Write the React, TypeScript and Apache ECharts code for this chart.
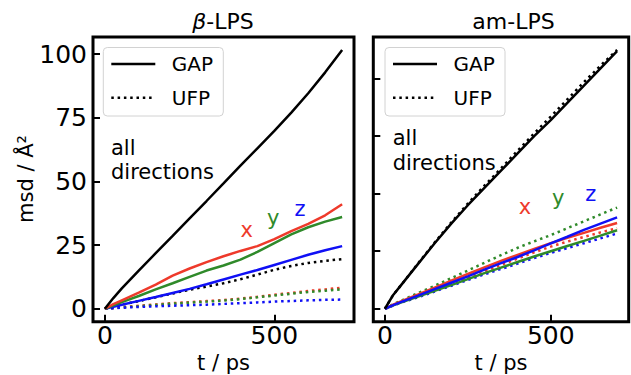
import React, { useEffect, useRef } from 'react';
import * as echarts from 'echarts';

const T = [0, 25, 50, 100, 150, 200, 250, 300, 350, 400, 450, 500, 550, 600, 650, 700];
const xTicks = [0, 500];
const yTicks = [0, 25, 50, 75, 100];

// β-LPS
const betaGapAll = [0, 4.2, 8, 15, 21.8, 28.6, 35.5, 42.3, 49.2, 56.2, 63, 69.8, 77, 84.6, 92.8, 101.6];
const betaGapX = [0, 1.8, 3.3, 6.3, 9.5, 13, 15.8, 18.3, 20.6, 22.7, 24.6, 27.3, 30.5, 33.3, 36.7, 41];
const betaGapY = [0, 1.3, 2.6, 5, 7.6, 10, 12.5, 15, 17, 19.3, 22.3, 25.8, 29.2, 32, 34.2, 36];
const betaGapZ = [0, 0.8, 1.6, 3.1, 4.6, 6.2, 7.8, 9.6, 11.5, 13.4, 15.2, 17.2, 19.2, 21.2, 23, 24.6];
const betaUfpAll = [0, 0.8, 1.6, 3, 4.5, 6, 7.5, 8.7, 10, 11.6, 13.4, 15.3, 16.8, 18, 18.8, 19.5];
const betaUfpX = [0, 0.3, 0.6, 1.2, 1.7, 2.2, 2.6, 3, 3.4, 4, 4.7, 5.5, 6.2, 7, 7.6, 8.3];
const betaUfpY = [0, 0.3, 0.5, 1, 1.5, 2, 2.4, 2.8, 3.2, 3.8, 4.5, 5.2, 5.9, 6.6, 7.1, 7.6];
const betaUfpZ = [0, 0.2, 0.4, 0.7, 0.95, 1.2, 1.4, 1.6, 1.9, 2.2, 2.5, 2.8, 3.05, 3.3, 3.5, 3.6];

// am-LPS
const amGapAll = [0, 6, 10.5, 19.5, 28.5, 37, 45, 52.5, 60, 67.5, 75, 82, 89.5, 97, 104.5, 112];
const amUfpAll = [0, 6, 10.5, 19.7, 28.8, 37.5, 45.7, 53.5, 61, 68.7, 76.2, 83.5, 91, 98.5, 105.7, 112.5];
const amGapX = [0, 1.8, 3.3, 6.2, 9.2, 12.2, 15.1, 18, 20.8, 23.4, 26, 28.5, 30.8, 33, 35.2, 37.3];
const amGapY = [0, 1.5, 2.8, 5.3, 7.8, 10.3, 12.9, 15.5, 17.9, 20.3, 22.7, 25, 27.3, 29.5, 31.8, 34.1];
const amGapZ = [0, 1.6, 3, 5.7, 8.5, 11.3, 14.1, 17, 19.8, 22.5, 25.4, 28.4, 31.3, 34.3, 37, 39.7];
const amUfpX = [0, 1.6, 3, 5.7, 8.4, 11, 13.6, 16.3, 19, 21.8, 24.5, 27, 29.2, 31.2, 33.2, 35];
const amUfpY = [0, 2, 3.6, 6.8, 10, 13.3, 16.6, 20, 23.3, 26.5, 29.3, 32, 35, 38, 41, 44];
const amUfpZ = [0, 1.4, 2.7, 5, 7.5, 10, 12.5, 15, 17.3, 19.6, 22, 24.3, 26.4, 28.5, 30.6, 32.7];

const RED = '#ee3a2b';
const GREEN = '#2f8a2a';
const BLUE = '#1010f5';
const BLACK = '#000000';
const FONT = 'DejaVu Sans';
const DOT = [2.5, 3.8];

function mk(name: string, vals: number[], color: string, dotted: boolean, gi: number, z: number) {
  return {
    type: 'line',
    name,
    xAxisIndex: gi,
    yAxisIndex: gi,
    data: T.map((t, i) => [t, vals[i]]),
    showSymbol: false,
    symbol: 'none',
    silent: true,
    z,
    lineStyle: { color, width: 2.5, type: dotted ? DOT : 'solid', cap: 'butt' },
  };
}

function xAx(gi: number) {
  return {
    gridIndex: gi,
    type: 'value',
    min: -35,
    max: 735,
    axisLine: { show: false, onZero: false },
    splitLine: { show: false },
    axisTick: { show: true, inside: true, length: 7, customValues: xTicks, lineStyle: { color: BLACK, width: 2 } },
    axisLabel: { show: true, customValues: xTicks, fontSize: 25, color: BLACK, fontFamily: FONT, margin: 1 },
  };
}

function yAx(gi: number, min: number, max: number, labels: boolean) {
  return {
    gridIndex: gi,
    type: 'value',
    min,
    max,
    axisLine: { show: false, onZero: false },
    splitLine: { show: false },
    axisTick: { show: true, inside: true, length: 7, customValues: yTicks, lineStyle: { color: BLACK, width: 2 } },
    axisLabel: { show: labels, customValues: yTicks, fontSize: 25, color: BLACK, fontFamily: FONT, margin: 6 },
  };
}

function txt(text: string, x: number, y: number, size: number, fill = BLACK, align = 'center', extra: any = {}) {
  return {
    type: 'text',
    x,
    y,
    z: 100,
    silent: true,
    style: { text, fill, fontSize: size, fontFamily: FONT, align, verticalAlign: 'middle', ...extra },
  };
}

function legend(x0: number) {
  return [
    {
      type: 'rect',
      z: 90,
      silent: true,
      shape: { x: x0, y: 47.5, width: 120, height: 68.5, r: 4 },
      style: { fill: 'rgba(255,255,255,0.85)', stroke: '#d2d2d2', lineWidth: 1 },
    },
    {
      type: 'line',
      z: 95,
      silent: true,
      shape: { x1: x0 + 8, y1: 64, x2: x0 + 52, y2: 64 },
      style: { stroke: BLACK, lineWidth: 2.5 },
    },
    {
      type: 'line',
      z: 95,
      silent: true,
      shape: { x1: x0 + 8, y1: 97.7, x2: x0 + 52, y2: 97.7 },
      style: { stroke: BLACK, lineWidth: 2.5, lineDash: DOT },
    },
    txt('GAP', x0 + 68.5, 64, 20, BLACK, 'left'),
    txt('UFP', x0 + 68.5, 97.7, 20, BLACK, 'left'),
  ];
}

export default function App() {
  const ref = useRef<HTMLDivElement>(null);
  useEffect(() => {
    document.body.style.margin = '0';
    const chart = echarts.init(ref.current!, null, { renderer: 'svg' });
    const option: any = {
      animation: false,
      backgroundColor: '#ffffff',
      grid: [
        { left: 93, top: 37, width: 261, height: 284.7, show: true, borderColor: BLACK, borderWidth: 3, backgroundColor: 'transparent' },
        { left: 373.3, top: 37, width: 255.4, height: 284.7, show: true, borderColor: BLACK, borderWidth: 3, backgroundColor: 'transparent' },
      ],
      xAxis: [xAx(0), xAx(1)],
      yAxis: [yAx(0, -5.08, 106.68, true), yAx(1, -5.63, 118.13, false)],
      series: [
        mk('β GAP all', betaGapAll, BLACK, false, 0, 10),
        mk('β UFP all', betaUfpAll, BLACK, true, 0, 4),
        mk('β UFP x', betaUfpX, RED, true, 0, 3),
        mk('β UFP y', betaUfpY, GREEN, true, 0, 3),
        mk('β UFP z', betaUfpZ, BLUE, true, 0, 3),
        mk('β GAP z', betaGapZ, BLUE, false, 0, 5),
        mk('β GAP y', betaGapY, GREEN, false, 0, 6),
        mk('β GAP x', betaGapX, RED, false, 0, 7),
        mk('am UFP all', amUfpAll, BLACK, true, 1, 4),
        mk('am GAP all', amGapAll, BLACK, false, 1, 10),
        mk('am UFP y', amUfpY, GREEN, true, 1, 3),
        mk('am UFP x', amUfpX, RED, true, 1, 3),
        mk('am GAP y', amGapY, GREEN, false, 1, 5),
        mk('am UFP z', amUfpZ, BLUE, true, 1, 4),
        mk('am GAP x', amGapX, RED, false, 1, 6),
        mk('am GAP z', amGapZ, BLUE, false, 1, 7),
      ],
      graphic: [
        {
          type: 'text',
          x: 223,
          y: 21,
          z: 100,
          style: {
            text: '{i|β}-LPS',
            fill: BLACK,
            fontSize: 22,
            fontFamily: FONT,
            align: 'center',
            verticalAlign: 'middle',
            rich: { i: { fontStyle: 'italic', fontSize: 22, fontFamily: FONT, fill: BLACK } },
          },
        },
        txt('am-LPS', 513.5, 21, 22),
        txt('t / ps', 223.5, 363, 21),
        txt('t / ps', 501, 363, 21),
        { ...txt('msd / Å²', 26, 179, 21), rotation: Math.PI / 2 },
        txt('all', 111, 148.3, 21, BLACK, 'left'),
        txt('directions', 111, 171.7, 21, BLACK, 'left'),
        txt('all', 392.7, 138.3, 21, BLACK, 'left'),
        txt('directions', 392.7, 163.3, 21, BLACK, 'left'),
        txt('x', 246.7, 230, 21, RED),
        txt('y', 273.3, 218, 21, GREEN),
        txt('z', 300, 209, 21, BLUE),
        txt('x', 525, 206.5, 21, RED),
        txt('y', 558.3, 198, 21, GREEN),
        txt('z', 590.7, 193.5, 21, BLUE),
        ...legend(103.3),
        ...legend(385),
      ],
    };
    chart.setOption(option);
    return () => chart.dispose();
  }, []);
  return <div ref={ref} style={{ position: 'fixed', left: 0, top: 0, width: 631, height: 375 }} />;
}
